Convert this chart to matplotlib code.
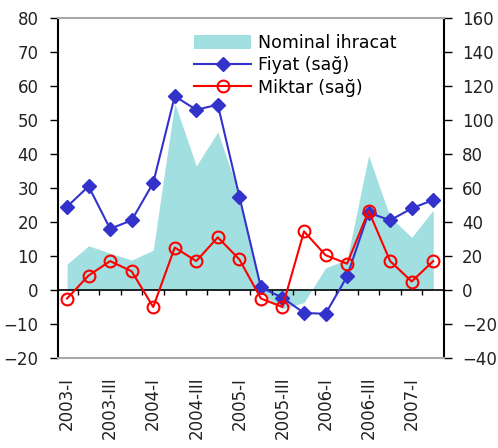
import numpy as np
import matplotlib
matplotlib.use('Agg')
import matplotlib.pyplot as plt
from matplotlib.patches import Patch
from matplotlib.lines import Line2D

quarters = ['2003-I', '2003-II', '2003-III', '2003-IV',
            '2004-I', '2004-II', '2004-III', '2004-IV',
            '2005-I', '2005-II', '2005-III', '2005-IV',
            '2006-I', '2006-II', '2006-III', '2006-IV',
            '2007-I', '2007-II']
# left axis
nominal = [7.6, 13, 10.8, 8.8, 11.7, 55, 36.5, 46.5, 28, -1, -5.5, -3.7,
           6.5, 9, 39.5, 21.5, 15.5, 23.5]
# right axis (sag)
fiyat = [49, 61, 36, 41, 63, 114, 106, 109, 55, 1.5, -4.5, -13.5,
         -14, 8, 45.5, 41, 48, 53]
miktar = [-5, 8.5, 17, 11, -10, 25, 17, 31, 18, -5, -10, 34.5,
          20.5, 15.5, 46.5, 17, 5, 17]

teal = '#a2dfe0'
blue = '#3333cc'
red = '#ff0000'
fs = 12

fig = plt.figure(figsize=(4.98, 4.48), dpi=100)
ax = fig.add_axes([58/498, 1-358/448, 386/498, 340/448])
ax2 = ax.twinx()

x = np.arange(len(quarters))
ax.fill_between(x, 0, nominal, color=teal, linewidth=0)
ax.axhline(0, color='black', linewidth=1.2)
ax2.plot(x, fiyat, '-D', color=blue, markersize=7.5, linewidth=1.5)
ax2.plot(x, miktar, '-o', color=red, markersize=8.5, markerfacecolor='none',
         markeredgewidth=1.5, linewidth=1.5)

ax.set_xlim(-0.42, 17.5)
ax.set_ylim(-20, 80)
ax.set_yticks(np.arange(-20, 81, 10))
ax2.set_ylim(-40, 160)
ax2.set_yticks(np.arange(-40, 161, 20))

# category boundary ticks on the zero line
ax.spines['bottom'].set_visible(False)
ax.set_xticks(x[:-1] + 0.5)
ax.tick_params(axis='x', direction='out', length=0, labelbottom=False)
ax.vlines(x[:-1] + 0.5, -1.5, 0, color='black', linewidth=1)
for i in range(0, len(quarters), 2):
    ax.text(i, -25.5, quarters[i], rotation=90, ha='center', va='top',
            fontsize=fs, color='#222222')

ax.spines['top'].set_visible(False)
for s in ['top', 'bottom']:
    ax2.spines[s].set_color('#aaaaaa')
    ax2.spines[s].set_linewidth(1.5)
ax.spines['left'].set_linewidth(1.5)
ax.spines['right'].set_visible(False)
ax2.spines['left'].set_visible(False)
ax2.spines['right'].set_linewidth(1.5)
ax.tick_params(axis='y', direction='out', length=6, width=1, labelsize=fs,
               labelcolor='#222222', pad=8)
ax2.tick_params(axis='y', direction='out', length=6, width=1, labelsize=fs,
                labelcolor='#222222', pad=7)

handles = [Patch(facecolor=teal, edgecolor='none'),
           Line2D([], [], color=blue, marker='D', markersize=7.5, linewidth=1.5),
           Line2D([], [], color=red, marker='o', markersize=8.5,
                  markerfacecolor='none', markeredgewidth=1.5, linewidth=1.5)]
labels = ['Nominal ihracat', 'Fiyat (sağ)', 'Miktar (sağ)']
fig.legend(handles, labels, loc='upper left',
           bbox_to_anchor=(194/498, 1-34/448), frameon=False, fontsize=12.5,
           handlelength=3.3, handleheight=0.9, handletextpad=0.4,
           labelspacing=0.25, borderpad=0, borderaxespad=0)

fig.savefig('out.png', dpi=100)
